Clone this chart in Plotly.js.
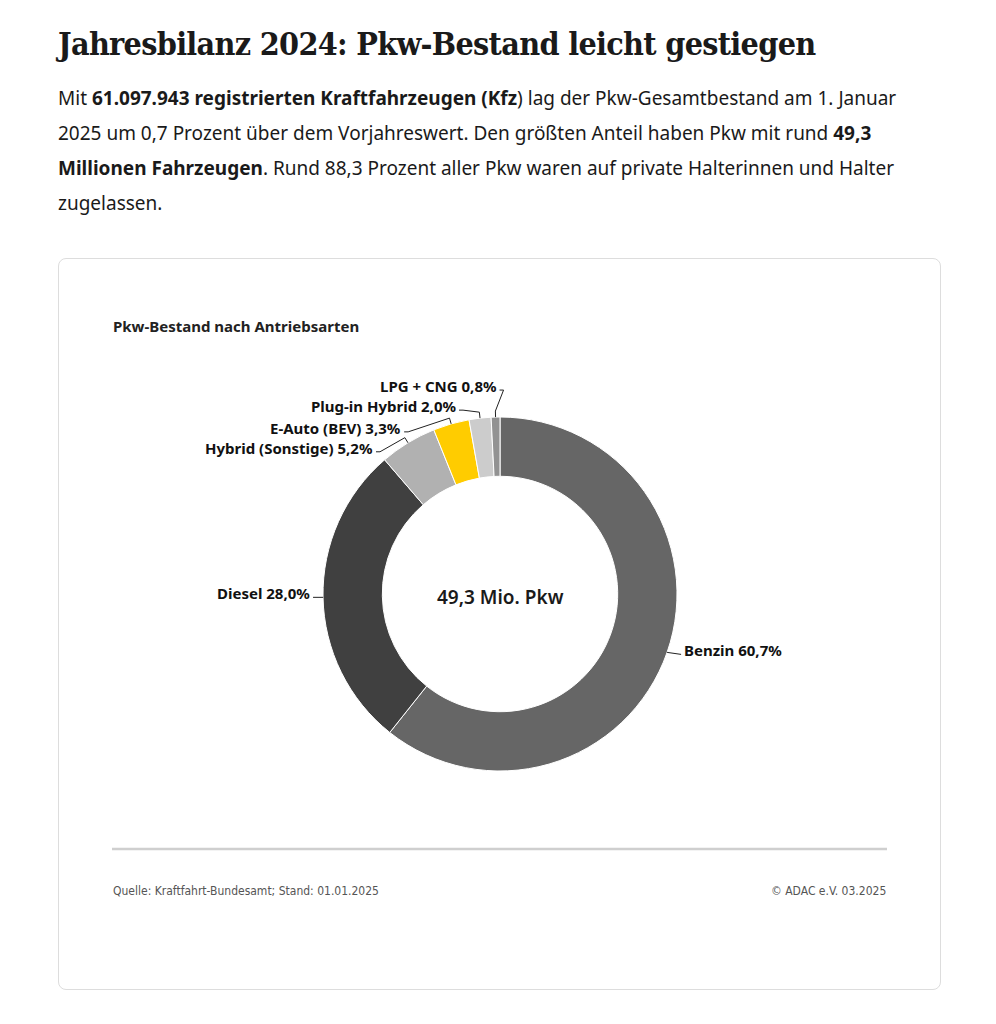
<!DOCTYPE html>
<html lang="de">
<head>
<meta charset="utf-8">
<script src="https://cdn.plot.ly/plotly-3.0.1.min.js"></script>
<style>
  html, body { margin:0; padding:0; background:#fff; }
  body { width:996px; height:1024px; position:relative; overflow:hidden; }
  #head { position:absolute; left:58px; top:23px; margin:0; font-family:"DejaVu Serif Condensed","DejaVu Serif",serif; font-weight:bold; font-size:32px; color:#1a1a1a; letter-spacing:-0.7px; line-height:42px; white-space:nowrap; }
  #lead { position:absolute; left:58px; top:81px; margin:0; font-family:"Noto Sans",sans-serif; font-size:19px; line-height:35px; color:#1a1a1a; white-space:nowrap; }
  #lead b { font-weight:bold; }
  #card { position:absolute; left:58px; top:258px; width:881px; height:730px; border:1px solid #dddddd; border-radius:8px; }
  #chart { position:absolute; left:0; top:0; width:996px; height:1024px; }
</style>
</head>
<body>
<h1 id="head">Jahresbilanz 2024: Pkw-Bestand leicht gestiegen</h1>
<p id="lead">Mit <b>61.097.943 registrierten Kraftfahrzeugen (Kfz</b>) lag der Pkw-Gesamtbestand am 1. Januar<br>2025 um 0,7 Prozent über dem Vorjahreswert. Den größten Anteil haben Pkw mit rund <b>49,3</b><br><b>Millionen Fahrzeugen</b>. Rund 88,3 Prozent aller Pkw waren auf private Halterinnen und Halter<br>zugelassen.</p>
<div id="card"></div>
<div id="chart"></div>
<script>
// ---- data ----
const categories = ['Benzin', 'Diesel', 'Hybrid (Sonstige)', 'E-Auto (BEV)', 'Plug-in Hybrid', 'LPG + CNG'];
const shares = [60.7, 28.0, 5.2, 3.3, 2.0, 0.8];
const centerLabel = '49,3 Mio. Pkw';
const chartTitle = 'Pkw-Bestand nach Antriebsarten';
const sourceNote = 'Quelle: Kraftfahrt-Bundesamt; Stand: 01.01.2025';
const copyrightNote = '© ADAC e.V. 03.2025';

// ---- styles / layout ----
const colors = ['#666666', '#404040', '#b1b1b1', '#ffcc00', '#cccccc', '#929292'];
const W = 996, H = 1024;
const CX = 500, CY = 594, R = 177, HOLE = 0.665;
// label end offsets (px) relative to the slice's outer mid-point anchor
const labelNudge = [[14, 2], [-10, 0], [-32, 9], [-47, 8], [-21, -8], [4, -27]];
const labelFont = {family: 'Noto Sans, sans-serif', size: 15, color: '#111111', weight: 700};

const px = x => x / W;
const py = y => 1 - y / H;

const total = shares.reduce((a, b) => a + b, 0);
const annotations = [];
const shapes = [];
let cum = 0;
shares.forEach((v, i) => {
  const mid = (cum + v / 2) / total * 2 * Math.PI; // clockwise from 12 o'clock
  cum += v;
  const ux = Math.sin(mid), uy = -Math.cos(mid);
  const A = [CX + R * ux, CY + R * uy];
  const E = [A[0] + 6 * ux, A[1] + 6 * uy];
  const L = [A[0] + labelNudge[i][0], A[1] + labelNudge[i][1]];
  const right = (i === 0);
  const side = right ? 1 : -1;
  let pts;
  if (i < 2) pts = [L, A];
  else pts = [L, [L[0] - side * 4, L[1]], E, A];
  const path = pts.map((p, k) => (k ? 'L' : 'M') + px(p[0]) + ',' + py(p[1])).join(' ');
  shapes.push({type: 'path', xref: 'paper', yref: 'paper', path: path, line: {color: '#222222', width: 1}});
  annotations.push({
    xref: 'paper', yref: 'paper', x: px(L[0] + (right ? 1 : -1)), y: py(L[1] - 4),
    xanchor: right ? 'left' : 'right', yanchor: 'middle', showarrow: false,
    text: categories[i] + ' ' + v.toFixed(1).replace('.', ',') + '%', font: labelFont
  });
});

annotations.push({xref: 'paper', yref: 'paper', x: px(CX), y: py(CY + 3), xanchor: 'center', yanchor: 'middle', showarrow: false,
  text: centerLabel, font: {family: 'Noto Sans, sans-serif', size: 19, color: '#1a1a1a', weight: 600}});
annotations.push({xref: 'paper', yref: 'paper', x: px(111), y: py(326), xanchor: 'left', yanchor: 'middle', showarrow: false,
  text: chartTitle, font: {family: 'Noto Sans, sans-serif', size: 15, color: '#222222', weight: 700}});
annotations.push({xref: 'paper', yref: 'paper', x: px(111), y: py(891), xanchor: 'left', yanchor: 'middle', showarrow: false,
  text: sourceNote, font: {family: 'Liberation Sans Narrow, DejaVu Sans Condensed, sans-serif', size: 12, color: '#555555'}});
annotations.push({xref: 'paper', yref: 'paper', x: px(888), y: py(891), xanchor: 'right', yanchor: 'middle', showarrow: false,
  text: copyrightNote, font: {family: 'Liberation Sans Narrow, DejaVu Sans Condensed, sans-serif', size: 12, color: '#555555'}});

shapes.push({type: 'line', xref: 'paper', yref: 'paper', x0: px(112), x1: px(887), y0: py(849), y1: py(849), line: {color: '#cfcfcf', width: 2.5}});

const trace = {
  type: 'pie', labels: categories, values: shares, sort: false, direction: 'clockwise', rotation: 0,
  hole: HOLE, textinfo: 'none', hoverinfo: 'label+percent', showlegend: false,
  marker: {colors: colors, line: {color: '#ffffff', width: 1}},
  domain: {x: [px(CX - R), px(CX + R)], y: [1 - (CY + R) / H, 1 - (CY - R) / H]}
};

Plotly.newPlot('chart', [trace], {
  width: W, height: H, margin: {l: 0, r: 0, t: 0, b: 0},
  paper_bgcolor: 'rgba(0,0,0,0)', plot_bgcolor: 'rgba(0,0,0,0)',
  showlegend: false, annotations: annotations, shapes: shapes
}, {displayModeBar: false, staticPlot: true});
</script>
</body>
</html>
